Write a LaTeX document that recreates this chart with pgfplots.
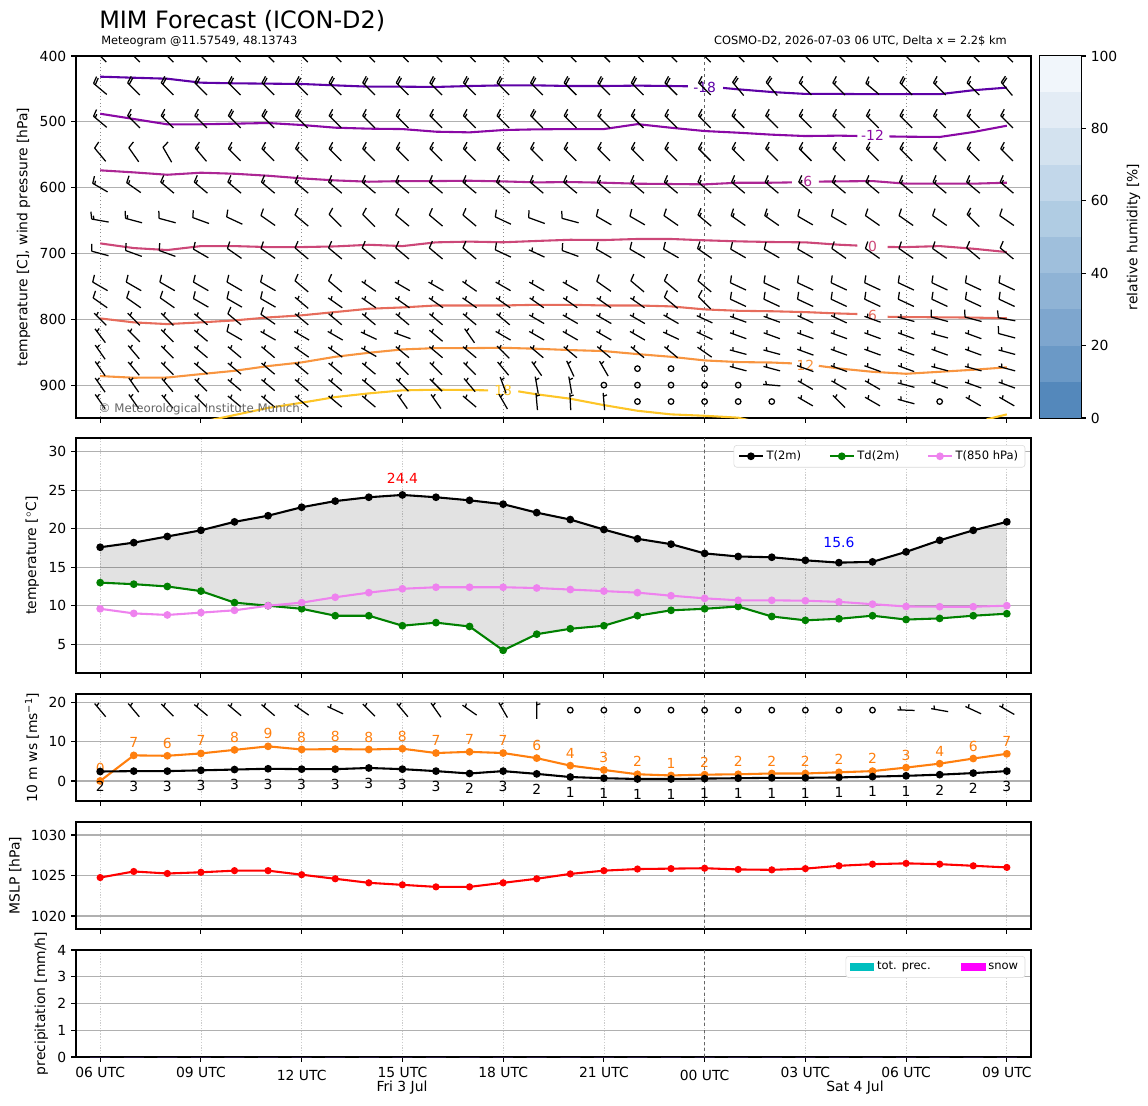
\documentclass[border=0pt]{standalone}
\usepackage{fontspec}
\setmainfont{DejaVu Sans}
\usepackage{pgfplots}
\pgfplotsset{compat=1.18}
\usepackage{pgfplotstable}

\def\px{0.72bp}
\definecolor{cm18}{HTML}{5D01A6}
\definecolor{cm12}{HTML}{8A09A5}
\definecolor{cm6}{HTML}{AC2694}
\definecolor{cz}{HTML}{CC4778}
\definecolor{cp6}{HTML}{E66C5C}
\definecolor{cp12}{HTML}{F89540}
\definecolor{cp18}{HTML}{FDC527}
\definecolor{gridgray}{HTML}{B0B0B0}
\definecolor{taborange}{HTML}{FF7F0E}
\definecolor{mviolet}{HTML}{EE82EE}
\definecolor{mgreen}{HTML}{008000}
\definecolor{precc}{HTML}{00BFBF}
\definecolor{mmagenta}{HTML}{FF00FF}
\definecolor{cb0}{HTML}{5488BB}
\definecolor{cb1}{HTML}{6B99C6}
\definecolor{cb2}{HTML}{7EA6CE}
\definecolor{cb3}{HTML}{8FB3D5}
\definecolor{cb4}{HTML}{9FBFDC}
\definecolor{cb5}{HTML}{B0CCE3}
\definecolor{cb6}{HTML}{C2D7EA}
\definecolor{cb7}{HTML}{D3E2EF}
\definecolor{cb8}{HTML}{E3ECF5}
\definecolor{cb9}{HTML}{F1F6FB}

\pgfplotstableread{
h T Td T850
0 17.6 13.0 9.6
1 18.2 12.8 9.0
2 19.0 12.5 8.8
3 19.8 11.9 9.1
4 20.9 10.4 9.4
5 21.7 10.0 10.0
6 22.8 9.6 10.4
7 23.6 8.7 11.1
8 24.1 8.7 11.7
9 24.4 7.4 12.2
10 24.1 7.8 12.4
11 23.7 7.3 12.4
12 23.2 4.2 12.4
13 22.1 6.3 12.3
14 21.2 7.0 12.1
15 19.9 7.4 11.9
16 18.7 8.7 11.7
17 18.0 9.4 11.3
18 16.8 9.6 10.96
19 16.4 9.9 10.7
20 16.3 8.6 10.7
21 15.9 8.1 10.65
22 15.6 8.3 10.5
23 15.7 8.7 10.2
24 17.0 8.2 9.9
25 18.5 8.35 9.87
26 19.8 8.7 9.87
27 20.9 8.96 10.0
}\tempdata

\pgfplotstableread{
h g m gl ml
0 0 2.4 0 2
1 6.5 2.5 7 3
2 6.4 2.5 6 3
3 7.0 2.7 7 3
4 7.9 2.9 8 3
5 8.8 3.1 9 3
6 8.0 3.0 8 3
7 8.1 3.0 8 3
8 8.0 3.3 8 3
9 8.2 3.0 8 3
10 7.1 2.5 7 3
11 7.4 1.9 7 2
12 7.1 2.5 7 3
13 5.8 1.8 6 2
14 3.9 1.0 4 1
15 2.8 0.7 3 1
16 1.7 0.5 2 1
17 1.4 0.5 1 1
18 1.6 0.6 2 1
19 1.7 0.7 2 1
20 1.9 0.8 2 1
21 1.9 0.8 2 1
22 2.2 0.9 2 1
23 2.5 1.1 2 1
24 3.4 1.3 3 1
25 4.4 1.6 4 2
26 5.7 2.0 6 2
27 6.9 2.5 7 3
}\winddata

\pgfplotstableread{
h p
0 1024.75
1 1025.5
2 1025.25
3 1025.4
4 1025.6
5 1025.6
6 1025.1
7 1024.6
8 1024.1
9 1023.85
10 1023.6
11 1023.6
12 1024.1
13 1024.6
14 1025.2
15 1025.6
16 1025.8
17 1025.85
18 1025.9
19 1025.75
20 1025.7
21 1025.85
22 1026.2
23 1026.4
24 1026.5
25 1026.4
26 1026.2
27 1026.0
}\mslpdata

% wind barb mark: staff along +x (towards wind source), feathers to -y
\pgfdeclareplotmark{barb}{%
  \ifnum\wspd=0\relax
    \pgfpathcircle{\pgfpointorigin}{2bp}%
    \pgfusepathqstroke
  \else
    \pgftransformrotate{\wdir}%
    \pgfpathmoveto{\pgfqpoint{-6.2bp}{0bp}}\pgfpathlineto{\pgfqpoint{6.2bp}{0bp}}%
    \ifnum\wspd>9\relax
      \pgfpathmoveto{\pgfqpoint{6.2bp}{0bp}}\pgfpathlineto{\pgfqpoint{7.7bp}{-5.1bp}}%
    \fi
    \ifnum\wspd>19\relax
      \pgfpathmoveto{\pgfqpoint{4.6bp}{0bp}}\pgfpathlineto{\pgfqpoint{6.1bp}{-5.1bp}}%
    \fi
    \ifnum\wspd=5\relax
      \pgfpathmoveto{\pgfqpoint{3.8bp}{0bp}}\pgfpathlineto{\pgfqpoint{4.6bp}{-2.6bp}}%
    \fi
    \ifnum\wspd=15\relax
      \pgfpathmoveto{\pgfqpoint{4.6bp}{0bp}}\pgfpathlineto{\pgfqpoint{5.4bp}{-2.6bp}}%
    \fi
    \pgfusepathqstroke
  \fi
}

\tikzset{clab/.style={font=\fontsize{10bp}{12bp}\selectfont, inner sep=0pt}}

\pgfplotsset{
  mg/.style={
    scale only axis, width=955*\px, anchor=north west,
    xmin=-0.72, xmax=27.72,
    xtick={0,3,...,27}, xticklabels={},
    axis line style={line width=0.8bp},
    every tick/.style={line width=0.8bp, black},
    major tick length=3.5bp, minor tick length=0pt,
    tick align=outside, tick pos=left,
    ymajorgrids,
    major grid style={line width=0.8bp, color=gridgray},
    tick label style={font=\fontsize{10bp}{12bp}\selectfont},
    label style={font=\fontsize{10bp}{12bp}\selectfont},
    /pgf/number format/assume math mode=true,
    /pgf/number format/1000 sep={},
    clip marker paths=true,
  },
  lightx/.style={minor xtick={0,3,...,27}, xminorgrids,
    minor grid style={line width=0.5bp, color=black!20, dash pattern=on 1bp off 1bp}},
  barbs/.style={scatter, only marks, mark=barb, forget plot,
    scatter/use mapped color={draw=black, fill=black},
    mark options={line width=0.9bp, solid},
    point meta=\thisrow{s},
    visualization depends on={value \thisrow{d}\as\wdir},
    visualization depends on={value \thisrow{s}\as\wspd}},
  midnight/.style={forget plot, line width=0.6bp, color=black!60, dash pattern=on 2.2bp off 2.2bp},
  patchlegend/.style={legend image code/.code={\fill[##1, draw=none, sharp corners] (0bp,-3bp) rectangle (17.5bp,3bp);}},
}

\begin{document}
\begin{tikzpicture}
\path[use as bounding box] (0,0) rectangle (1148*\px,-1105*\px);

\node[anchor=base west, inner sep=0pt, font=\fontsize{17.2bp}{20bp}\selectfont] at (99*\px,-28.5*\px) {MIM Forecast (ICON-D2)};
\node[anchor=base west, inner sep=0pt, font=\fontsize{8.2bp}{10bp}\selectfont] at (101*\px,-44.5*\px) {Meteogram @11.57549, 48.13743};
\node[anchor=base east, inner sep=0pt, font=\fontsize{8.2bp}{10bp}\selectfont] at (1007*\px,-44.5*\px) {COSMO-D2, 2026-07-03 06 UTC, Delta x = 2.2\$ km};

% ---------------- panel 1 ----------------
\begin{axis}[mg, at={(76*\px,-56*\px)}, height=362*\px,
  y dir=reverse, ymin=400, ymax=950, ytick={400,500,...,900},
  point meta min=0, point meta max=100,
  minor xtick={0,6,12,24}, xminorgrids,
  minor grid style={line width=0.6bp, color=black!45, dotted},
  ylabel={temperature [C], wind pressure [hPa]}]
\addplot[midnight] coordinates {(18,400) (18,950)};
% isotherms
\addplot[forget plot, cm18, line width=1.5bp] coordinates {(0,431.4)(1,433)(2,434.5)(3,440.5)(4,441.5)(5,442)(6,442.5)(7,444.6)(8,446.6)(9,446.6)(10,447)(11,445.6)(12,444.6)(13,444.6)(14,445.6)(15,445.6)(16,445)(17,445.6)(17.5,446)};
\addplot[forget plot, cm18, line width=1.5bp] coordinates {(18.55,448.5)(19,450.6)(20,454.7)(21,457.6)(22,457.6)(23,458)(24,458)(25,458)(26,452)(27,448)};
\addplot[forget plot, cm12, line width=1.5bp] coordinates {(0,487.7)(1,495.7)(2,503.8)(3,503.8)(4,502.8)(5,501.8)(6,504.8)(7,508.9)(8,510.4)(9,511)(10,515)(11,516)(12,512.5)(13,511.4)(14,511)(15,511)(16,503.5)(17,509)(18,514)(19,516.5)(20,519.5)(21,521.6)(22,521)(22.55,521.5)};
\addplot[forget plot, cm12, line width=1.5bp] coordinates {(23.5,522.2)(24,522.6)(25,523)(26,515.5)(27,505.9)};
\addplot[forget plot, cm6, line width=1.5bp] coordinates {(0,573.7)(1,576.8)(2,580.4)(3,577.3)(4,578.9)(5,581.9)(6,585.9)(7,589)(8,591)(9,590)(10,590)(11,589.5)(12,590.5)(13,592)(14,591.5)(15,592.5)(16,594)(17,594.5)(18,595)(19,592.5)(20,592.5)(20.6,592)};
\addplot[forget plot, cm6, line width=1.5bp] coordinates {(21.4,590.8)(22,590.5)(23,590)(24,594)(25,594)(26,594)(27,592.5)};
\addplot[forget plot, cz, line width=1.5bp] coordinates {(0,684.7)(1,691.8)(2,694.8)(3,688.8)(4,688.8)(5,690.3)(6,690.3)(7,689.3)(8,686.8)(9,688.8)(10,683.1)(11,682)(12,683)(13,681)(14,679.2)(15,679.6)(16,678)(17,678)(18,680)(19,681.6)(20,682.6)(21,683.1)(22,686.7)(22.55,688)};
\addplot[forget plot, cz, line width=1.5bp] coordinates {(23.45,690.2)(24,690.3)(25,688.8)(26,692.8)(27,697.9)};
\addplot[forget plot, cp6, line width=1.5bp] coordinates {(0,798.7)(1,804.7)(2,807.3)(3,804.7)(4,801.7)(5,797.2)(6,794)(7,789)(8,784)(9,782)(10,779)(11,779)(12,779)(13,778)(14,778)(15,779)(16,779)(17,780.4)(18,785)(19,787.1)(20,787.8)(21,789.1)(22,791.2)(22.55,792)};
\addplot[forget plot, cp6, line width=1.5bp] coordinates {(23.45,796.2)(24,796.6)(25,797)(26,797.4)(27,798.5)};
\addplot[forget plot, cp12, line width=1.5bp] coordinates {(0,886.3)(1,888.8)(2,888.5)(3,883.3)(4,878.3)(5,871.1)(6,865.5)(7,857)(8,850.9)(9,845.8)(10,843.8)(11,843.8)(12,843.3)(13,844.8)(14,846.8)(15,848.3)(16,852.9)(17,857)(18,862.5)(19,865)(20,865.7)(20.6,867)};
\addplot[forget plot, cp12, line width=1.5bp] coordinates {(21.4,870.8)(22,874.7)(23,879.8)(24,882.8)(25,879.8)(26,876.7)(27,873)};
\addplot[forget plot, cp18, line width=1.5bp] coordinates {(3.3,953)(3.77,948)(4,945.5)(5,934.7)(6,926.8)(7,918.2)(8,912.6)(9,908)(10,907)(11,907.5)(11.55,908)};
\addplot[forget plot, cp18, line width=1.5bp] coordinates {(12.45,909.5)(13,914)(14,920.7)(15,930.4)(16,939)(17,944.5)(18,946.6)(19,949.5)(19.3,953)};
\addplot[forget plot, cp18, line width=1.5bp] coordinates {(26.4,952)(27,944.5)};
\node[clab, text=cm18] at (axis cs:18,447) {-18};
\node[clab, text=cm12] at (axis cs:23,520.5) {-12};
\node[clab, text=cm6] at (axis cs:21,591) {-6};
\node[clab, text=cz] at (axis cs:23,690) {0};
\node[clab, text=cp6] at (axis cs:23,794) {6};
\node[clab, text=cp12] at (axis cs:21,869.6) {12};
\node[clab, text=cp18] at (axis cs:12,908.5) {18};
% wind barbs
\addplot[barbs] table[row sep=\\, x=h, y expr=400] {h d s\\0 135 20\\1 135 20\\2 135 20\\3 135 20\\4 135 20\\5 135 20\\6 135 20\\7 135 20\\8 135 20\\9 135 20\\10 135 20\\11 135 20\\12 135 20\\13 135 20\\14 135 20\\15 135 20\\16 135 20\\17 135 20\\18 135 20\\19 135 20\\20 135 20\\21 135 20\\22 135 20\\23 135 20\\24 135 20\\25 135 20\\26 135 20\\27 135 20\\};
\addplot[barbs] table[row sep=\\, x=h, y expr=450] {h d s\\0 140 20\\1 135 20\\2 135 20\\3 135 20\\4 135 20\\5 135 20\\6 135 20\\7 135 20\\8 135 20\\9 135 20\\10 135 20\\11 135 20\\12 135 20\\13 135 20\\14 135 20\\15 135 20\\16 135 20\\17 135 20\\18 135 15\\19 130 20\\20 130 20\\21 135 15\\22 135 15\\23 140 15\\24 135 20\\25 135 15\\26 135 15\\27 130 20\\};
\addplot[barbs] table[row sep=\\, x=h, y expr=500] {h d s\\0 140 15\\1 135 15\\2 135 15\\3 135 15\\4 135 20\\5 135 20\\6 135 20\\7 135 15\\8 135 15\\9 135 15\\10 135 15\\11 135 15\\12 135 15\\13 135 20\\14 135 15\\15 135 15\\16 135 15\\17 135 15\\18 135 15\\19 135 15\\20 135 15\\21 135 15\\22 135 15\\23 135 15\\24 135 15\\25 135 15\\26 135 15\\27 135 15\\};
\addplot[barbs] table[row sep=\\, x=h, y expr=550] {h d s\\0 130 10\\1 125 10\\2 120 10\\3 130 15\\4 135 15\\5 135 15\\6 135 15\\7 135 15\\8 135 15\\9 135 15\\10 135 15\\11 135 15\\12 135 15\\13 135 15\\14 135 15\\15 135 15\\16 135 15\\17 135 15\\18 135 15\\19 135 15\\20 135 15\\21 135 15\\22 135 15\\23 135 15\\24 135 15\\25 135 15\\26 135 15\\27 135 15\\};
\addplot[barbs] table[row sep=\\, x=h, y expr=600] {h d s\\0 150 15\\1 145 15\\2 140 15\\3 140 15\\4 140 15\\5 140 15\\6 140 15\\7 140 15\\8 140 15\\9 140 15\\10 140 15\\11 140 15\\12 140 15\\13 140 15\\14 140 15\\15 140 15\\16 140 15\\17 140 15\\18 140 15\\19 140 15\\20 140 15\\21 140 15\\22 140 15\\23 140 15\\24 140 15\\25 140 15\\26 140 15\\27 140 15\\};
\addplot[barbs] table[row sep=\\, x=h, y expr=650] {h d s\\0 170 15\\1 165 15\\2 165 10\\3 160 10\\4 155 10\\5 145 10\\6 140 10\\7 135 10\\8 135 10\\9 140 10\\10 140 10\\11 140 10\\12 155 10\\13 160 10\\14 165 10\\15 150 10\\16 150 10\\17 145 10\\18 140 15\\19 145 15\\20 145 15\\21 150 10\\22 150 10\\23 145 10\\24 145 10\\25 145 10\\26 135 15\\27 145 10\\};
\addplot[barbs] table[row sep=\\, x=h, y expr=700] {h d s\\0 165 10\\1 160 10\\2 160 10\\3 150 10\\4 145 10\\5 145 10\\6 140 10\\7 140 10\\8 140 10\\9 140 10\\10 140 10\\11 140 10\\12 155 10\\13 155 5\\14 160 10\\15 150 10\\16 150 10\\17 150 10\\18 145 15\\19 150 10\\20 150 10\\21 150 10\\22 145 10\\23 145 10\\24 145 10\\25 145 10\\26 140 10\\27 140 10\\};
\addplot[barbs] table[row sep=\\, x=h, y expr=750] {h d s\\0 150 10\\1 150 10\\2 150 10\\3 150 10\\4 150 10\\5 150 10\\6 140 10\\7 140 10\\8 145 5\\9 150 5\\10 150 5\\11 145 5\\12 150 5\\13 150 5\\14 150 5\\15 145 10\\16 140 10\\17 140 10\\18 140 10\\19 155 10\\20 155 10\\21 155 10\\22 155 10\\23 155 10\\24 155 10\\25 155 10\\26 155 10\\27 155 10\\};
\addplot[barbs] table[row sep=\\, x=h, y expr=775] {h d s\\0 145 10\\1 145 10\\2 145 10\\3 150 10\\4 150 10\\5 150 10\\6 140 5\\7 145 5\\8 145 5\\9 145 5\\10 145 5\\11 145 5\\12 145 5\\13 145 5\\14 145 5\\15 145 5\\16 145 5\\17 140 10\\18 135 10\\19 155 10\\20 155 10\\21 155 10\\22 155 10\\23 155 10\\24 155 10\\25 155 10\\26 155 10\\27 155 10\\};
\addplot[barbs] table[row sep=\\, x=h, y expr=800] {h d s\\0 135 5\\1 135 5\\2 135 5\\3 140 5\\4 140 10\\5 145 10\\6 140 5\\7 140 5\\8 140 5\\9 140 5\\10 140 5\\11 140 5\\12 140 5\\13 150 5\\14 150 5\\15 150 5\\16 150 5\\17 150 5\\18 155 5\\19 160 5\\20 160 5\\21 155 5\\22 155 5\\23 160 5\\24 165 5\\25 165 10\\26 165 10\\27 170 10\\};
\addplot[barbs] table[row sep=\\, x=h, y expr=825] {h d s\\0 127 5\\1 135 5\\2 135 5\\3 140 5\\4 150 10\\5 150 5\\6 150 5\\7 150 5\\8 155 5\\9 160 5\\10 140 5\\11 125 5\\12 150 5\\13 150 5\\14 150 5\\15 150 5\\16 150 5\\17 155 5\\18 155 5\\19 160 5\\20 160 5\\21 160 5\\22 160 5\\23 160 5\\24 160 5\\25 165 5\\26 160 5\\27 165 10\\};
\addplot[barbs] table[row sep=\\, x=h, y expr=850] {h d s\\0 125 5\\1 130 5\\2 135 5\\3 140 5\\4 140 5\\5 140 5\\6 145 5\\7 145 5\\8 150 5\\9 140 5\\10 140 5\\11 140 5\\12 135 5\\13 140 5\\14 140 5\\15 140 5\\16 140 5\\17 140 5\\18 145 5\\19 165 5\\20 165 5\\21 160 5\\22 160 5\\23 160 5\\24 160 5\\25 160 5\\26 160 5\\27 165 5\\};
\addplot[barbs] table[row sep=\\, x=h, y expr=875] {h d s\\0 125 5\\1 130 5\\2 135 5\\3 140 5\\4 140 5\\5 140 5\\6 140 5\\7 140 5\\8 140 5\\9 135 5\\10 135 5\\11 135 5\\12 130 5\\13 125 5\\14 115 5\\15 120 5\\16 0 0\\17 0 0\\18 0 0\\19 165 5\\20 165 5\\21 160 5\\22 160 5\\23 160 5\\24 160 5\\25 165 5\\26 165 5\\27 165 5\\};
\addplot[barbs] table[row sep=\\, x=h, y expr=900] {h d s\\0 125 5\\1 125 5\\2 130 5\\3 135 5\\4 140 5\\5 140 5\\6 140 5\\7 140 5\\8 140 5\\9 135 5\\10 135 5\\11 130 5\\12 110 5\\13 100 5\\14 100 5\\15 0 0\\16 0 0\\17 0 0\\18 0 0\\19 0 0\\20 175 5\\21 150 5\\22 150 5\\23 150 5\\24 165 5\\25 160 5\\26 160 5\\27 160 5\\};
\addplot[barbs] table[row sep=\\, x=h, y expr=925] {h d s\\0 125 5\\1 125 5\\2 130 5\\3 135 5\\4 140 5\\5 140 5\\6 140 5\\7 140 5\\8 140 5\\9 125 5\\10 125 5\\11 140 5\\12 120 5\\13 95 5\\14 93 5\\15 95 5\\16 0 0\\17 0 0\\18 0 0\\19 0 0\\20 0 0\\21 150 5\\22 135 5\\23 150 5\\24 165 5\\25 0 0\\26 150 5\\27 150 5\\};
\node[anchor=west, inner sep=0pt, text=black!60, font=\fontsize{8.5bp}{10bp}\selectfont] at (axis cs:-0.05,937) {© Meteorological Institute Munich};
\end{axis}

% ---------------- colorbar ----------------
\begin{axis}[scale only axis, at={(1040*\px,-56*\px)}, anchor=north west, width=41*\px, height=362*\px,
  xmin=0, xmax=1, ymin=0, ymax=100, xtick=\empty, ytick={0,20,...,100},
  ytick pos=right, yticklabel pos=right, tick align=outside,
  axis line style={line width=0.8bp}, every tick/.style={line width=0.8bp, black}, major tick length=3.5bp,
  tick label style={font=\fontsize{10bp}{12bp}\selectfont},
  label style={font=\fontsize{10bp}{12bp}\selectfont},
  /pgf/number format/assume math mode=true,
  ylabel={relative humidity [\%]}]
\addplot[fill=cb0, draw=none] coordinates {(0,0)(1,0)(1,10)(0,10)} --cycle;
\addplot[fill=cb1, draw=none] coordinates {(0,10)(1,10)(1,20)(0,20)} --cycle;
\addplot[fill=cb2, draw=none] coordinates {(0,20)(1,20)(1,30)(0,30)} --cycle;
\addplot[fill=cb3, draw=none] coordinates {(0,30)(1,30)(1,40)(0,40)} --cycle;
\addplot[fill=cb4, draw=none] coordinates {(0,40)(1,40)(1,50)(0,50)} --cycle;
\addplot[fill=cb5, draw=none] coordinates {(0,50)(1,50)(1,60)(0,60)} --cycle;
\addplot[fill=cb6, draw=none] coordinates {(0,60)(1,60)(1,70)(0,70)} --cycle;
\addplot[fill=cb7, draw=none] coordinates {(0,70)(1,70)(1,80)(0,80)} --cycle;
\addplot[fill=cb8, draw=none] coordinates {(0,80)(1,80)(1,90)(0,90)} --cycle;
\addplot[fill=cb9, draw=none] coordinates {(0,90)(1,90)(1,100)(0,100)} --cycle;
\end{axis}

% ---------------- panel 2 ----------------
\begin{axis}[mg, lightx, at={(76*\px,-438*\px)}, height=235*\px,
  ymin=1.25, ymax=31.8, ytick={5,10,...,30},
  ylabel={temperature [$^\circ$C]},
  legend columns=3, legend cell align=left,
  legend style={at={(0.994,0.97)}, anchor=north east, draw=black!15, fill=white, rounded corners=2bp,
    font=\fontsize{8.3bp}{10bp}\selectfont, /tikz/every even column/.append style={column sep=18bp}}]
\addplot[midnight] coordinates {(18,1.25) (18,31.8)};
\addplot[draw=none, stack plots=y, forget plot] table[x=h, y=Td] {\tempdata};
\addplot[fill=black, fill opacity=0.115, draw=none, stack plots=y, forget plot] table[x=h, y expr=\thisrow{T}-\thisrow{Td}] {\tempdata} \closedcycle;
\addplot[black, line width=1.5bp, mark=*, mark size=2bp] table[x=h, y=T] {\tempdata};
\addlegendentry{T(2m)}
\addplot[mgreen, line width=1.5bp, mark=*, mark size=2bp] table[x=h, y=Td] {\tempdata};
\addlegendentry{Td(2m)}
\addplot[mviolet, line width=1.5bp, mark=*, mark size=2bp] table[x=h, y=T850] {\tempdata};
\addlegendentry{T(850 hPa)}
\node[text=red, font=\fontsize{10bp}{12bp}\selectfont] at (axis cs:9,26.6) {24.4};
\node[text=blue, font=\fontsize{10bp}{12bp}\selectfont] at (axis cs:22,18.2) {15.6};
\end{axis}

% ---------------- panel 3 ----------------
\begin{axis}[mg, lightx, at={(76*\px,-694*\px)}, height=107*\px,
  ymin=-5.1, ymax=22.1, ytick={0,10,20},
  ylabel={10 m ws [ms\textsuperscript{−1}]}]
\addplot[midnight] coordinates {(18,-5.1) (18,22.1)};
\addplot[forget plot, taborange, line width=1.5bp, mark=*, mark size=2bp,
  nodes near coords, point meta=explicit symbolic,
  nodes near coords style={anchor=center, yshift=9bp, text=taborange, font=\fontsize{10bp}{12bp}\selectfont}]
  table[x=h, y=g, meta=gl] {\winddata};
\addplot[forget plot, black, line width=1.5bp, mark=*, mark size=2bp,
  nodes near coords, point meta=explicit symbolic,
  nodes near coords style={anchor=center, yshift=-11bp, text=black, font=\fontsize{10bp}{12bp}\selectfont}]
  table[x=h, y=m, meta=ml] {\winddata};
\addplot[barbs, point meta min=0, point meta max=100] table[row sep=\\, x=h, y expr=18] {h d s\\0 130 5\\1 130 5\\2 135 5\\3 140 5\\4 140 5\\5 140 5\\6 145 5\\7 155 5\\8 135 5\\9 130 5\\10 125 5\\11 145 5\\12 120 5\\13 90 5\\14 0 0\\15 0 0\\16 0 0\\17 0 0\\18 0 0\\19 0 0\\20 0 0\\21 0 0\\22 0 0\\23 0 0\\24 178 5\\25 170 5\\26 155 5\\27 150 5\\};
\end{axis}

% ---------------- panel 4 ----------------
\begin{axis}[mg, lightx, at={(76*\px,-822*\px)}, height=107*\px,
  ymin=1018.4, ymax=1031.6, ytick={1020,1025,1030},
  ylabel={MSLP [hPa]}]
\addplot[midnight] coordinates {(18,1018.4) (18,1031.6)};
\addplot[forget plot, red, line width=1.5bp, mark=*, mark size=1.8bp] table[x=h, y=p] {\mslpdata};
\end{axis}

% ---------------- panel 5 ----------------
\begin{axis}[mg, lightx, at={(76*\px,-950*\px)}, height=107*\px,
  ymin=0, ymax=4, ytick={0,1,2,3,4},
  ylabel={precipitation [mm/h]},
  xticklabels={06 UTC, 09 UTC, \raisebox{-2.8bp}[\height]{12 UTC}, 15 UTC, 18 UTC, 21 UTC, \raisebox{-2.8bp}[\height]{00 UTC}, 03 UTC, 06 UTC, 09 UTC},
  legend columns=2, legend cell align=left,
  legend style={at={(0.994,0.944)}, anchor=north east, draw=black!15, fill=white, rounded corners=2bp,
    font=\fontsize{8.3bp}{10bp}\selectfont, /tikz/every even column/.append style={column sep=20bp}}]
\addplot[midnight] coordinates {(18,0) (18,4)};
\addplot[ybar, bar width=20*\px, fill=precc, draw=none, patchlegend] coordinates {(0,0)(1,0)(2,0)(3,0)(4,0)(5,0)(6,0)(7,0)(8,0)(9,0)(10,0)(11,0)(12,0)(13,0)(14,0)(15,0)(16,0)(17,0)(18,0)(19,0)(20,0)(21,0)(22,0)(23,0)(24,0)(25,0)(26,0)(27,0)};
\addlegendentry{tot. prec.}
\addplot[ybar, bar width=20*\px, fill=mmagenta, draw=none, patchlegend] coordinates {(0,0)(1,0)(2,0)(3,0)(4,0)(5,0)(6,0)(7,0)(8,0)(9,0)(10,0)(11,0)(12,0)(13,0)(14,0)(15,0)(16,0)(17,0)(18,0)(19,0)(20,0)(21,0)(22,0)(23,0)(24,0)(25,0)(26,0)(27,0)};
\addlegendentry{snow}
\end{axis}

\node[font=\fontsize{10bp}{12bp}\selectfont] at (402*\px,-1087.5*\px) {Fri 3 Jul};
\node[font=\fontsize{10bp}{12bp}\selectfont] at (855*\px,-1087.5*\px) {Sat 4 Jul};
\end{tikzpicture}
\end{document}
